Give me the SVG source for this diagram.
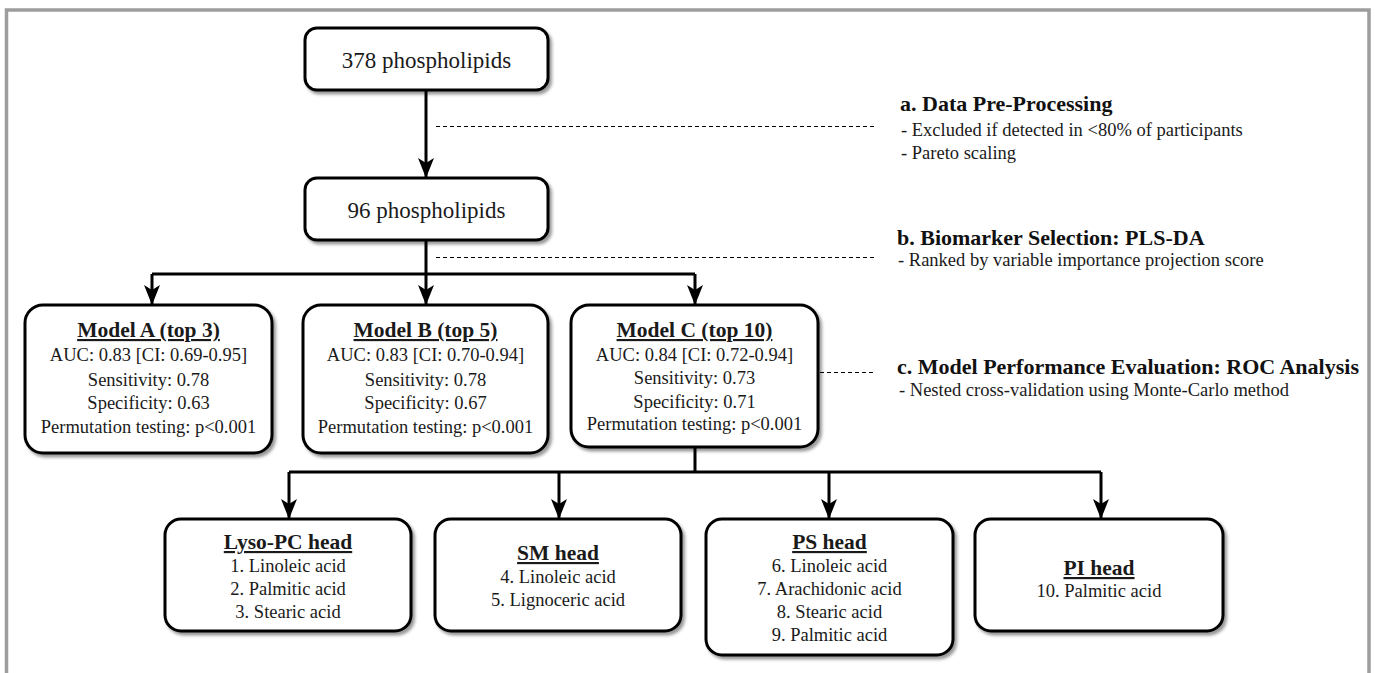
<svg xmlns="http://www.w3.org/2000/svg" width="1375" height="673" viewBox="0 0 1375 673">
<style>
.box{fill:#fff;stroke:#000;stroke-width:3;filter:url(#sh)}
.t{font-family:"Liberation Serif","Times New Roman",serif;fill:#1a1a1a;text-anchor:middle}
.big{font-size:23px}
.ttl{font-size:21.5px;font-weight:bold;text-decoration:underline}
.bd{font-size:18.5px}
.ah{font-family:"Liberation Serif","Times New Roman",serif;font-size:22px;font-weight:bold;fill:#111}
.ab{font-family:"Liberation Serif","Times New Roman",serif;font-size:18.5px;fill:#1a1a1a}
.con{fill:none;stroke:#000;stroke-width:3}
.dash{fill:none;stroke:#000;stroke-width:1;stroke-dasharray:4 3}
</style>
<defs>
<filter id="sh" x="-10%" y="-10%" width="125%" height="125%">
<feDropShadow dx="2.5" dy="3" stdDeviation="1.5" flood-color="#000" flood-opacity="0.4"/>
</filter>
<marker id="ar" viewBox="0 0 20 16" refX="19" refY="8" markerWidth="20" markerHeight="16" markerUnits="userSpaceOnUse" orient="auto">
<path d="M0,0 L20,8 L0,16 L5,8 Z" fill="#000"/>
</marker>
</defs>
<rect x="0" y="0" width="1375" height="673" fill="#fff"/>
<rect x="6.5" y="10" width="1362.5" height="720" fill="none" stroke="#9d9d9d" stroke-width="3.5"/>

<g id="connectors">
<path class="con" d="M426,90 V177" marker-end="url(#ar)"/>
<path class="con" d="M426,240 V274 M152,274 H695"/>
<path class="con" d="M152,274 V304" marker-end="url(#ar)"/>
<path class="con" d="M426,274 V304" marker-end="url(#ar)"/>
<path class="con" d="M695,274 V304" marker-end="url(#ar)"/>
<path class="con" d="M695,447 V472 M289,472 H1101"/>
<path class="con" d="M289,472 V518" marker-end="url(#ar)"/>
<path class="con" d="M559,472 V518" marker-end="url(#ar)"/>
<path class="con" d="M829,472 V518" marker-end="url(#ar)"/>
<path class="con" d="M1101,472 V518" marker-end="url(#ar)"/>
<path class="dash" d="M436,126.5 H876"/>
<path class="dash" d="M436,257.5 H875"/>
<path class="dash" d="M820,372.5 H875"/>
</g>

<g id="n378">
<rect class="box" x="305" y="28" width="243" height="62" rx="12"/>
<text class="t big" x="426.5" y="68">378 phospholipids</text>
</g>
<g id="n96">
<rect class="box" x="305" y="178" width="243" height="62" rx="12"/>
<text class="t big" x="426.5" y="218">96 phospholipids</text>
</g>

<g id="annA">
<text class="ah" x="900" y="111">a. Data Pre-Processing</text>
<text class="ab" x="901" y="136">- Excluded if detected in &lt;80% of participants</text>
<text class="ab" x="901" y="159">- Pareto scaling</text>
</g>
<g id="annB">
<text class="ah" x="897" y="245">b. Biomarker Selection: PLS-DA</text>
<text class="ab" x="898" y="266">- Ranked by variable importance projection score</text>
</g>
<g id="annC">
<text class="ah" x="897" y="374">c. Model Performance Evaluation: ROC Analysis</text>
<text class="ab" x="899" y="396">- Nested cross-validation using Monte-Carlo method</text>
</g>

<g id="modelA">
<rect class="box" x="25" y="305" width="247" height="148" rx="18"/>
<text class="t ttl" x="148.5" y="337">Model A (top 3)</text>
<text class="t bd" x="148.5" y="361">AUC: 0.83 [CI: 0.69-0.95]</text>
<text class="t bd" x="148.5" y="386">Sensitivity: 0.78</text>
<text class="t bd" x="148.5" y="409">Specificity: 0.63</text>
<text class="t bd" x="148.5" y="433">Permutation testing: p&lt;0.001</text>
</g>
<g id="modelB">
<rect class="box" x="303" y="305" width="245" height="148" rx="18"/>
<text class="t ttl" x="425.5" y="337">Model B (top 5)</text>
<text class="t bd" x="425.5" y="361">AUC: 0.83 [CI: 0.70-0.94]</text>
<text class="t bd" x="425.5" y="386">Sensitivity: 0.78</text>
<text class="t bd" x="425.5" y="409">Specificity: 0.67</text>
<text class="t bd" x="425.5" y="433">Permutation testing: p&lt;0.001</text>
</g>
<g id="modelC">
<rect class="box" x="571" y="305" width="247" height="142" rx="18"/>
<text class="t ttl" x="694.5" y="337">Model C (top 10)</text>
<text class="t bd" x="694.5" y="361">AUC: 0.84 [CI: 0.72-0.94]</text>
<text class="t bd" x="694.5" y="384">Sensitivity: 0.73</text>
<text class="t bd" x="694.5" y="408">Specificity: 0.71</text>
<text class="t bd" x="694.5" y="430">Permutation testing: p&lt;0.001</text>
</g>

<g id="lysoPC">
<rect class="box" x="165" y="519" width="246" height="112" rx="16"/>
<text class="t ttl" x="288" y="549">Lyso-PC head</text>
<text class="t bd" x="288" y="572">1. Linoleic acid</text>
<text class="t bd" x="288" y="595">2. Palmitic acid</text>
<text class="t bd" x="288" y="618">3. Stearic acid</text>
</g>
<g id="sm">
<rect class="box" x="435" y="519" width="246" height="112" rx="16"/>
<text class="t ttl" x="558" y="560">SM head</text>
<text class="t bd" x="558" y="583">4. Linoleic acid</text>
<text class="t bd" x="558" y="606">5. Lignoceric acid</text>
</g>
<g id="ps">
<rect class="box" x="706" y="519" width="247" height="136" rx="16"/>
<text class="t ttl" x="829.5" y="549">PS head</text>
<text class="t bd" x="829.5" y="572">6. Linoleic acid</text>
<text class="t bd" x="829.5" y="595">7. Arachidonic acid</text>
<text class="t bd" x="829.5" y="618">8. Stearic acid</text>
<text class="t bd" x="829.5" y="641">9. Palmitic acid</text>
</g>
<g id="pi">
<rect class="box" x="975" y="519" width="248" height="112" rx="16"/>
<text class="t ttl" x="1099" y="575">PI head</text>
<text class="t bd" x="1099" y="597">10. Palmitic acid</text>
</g>
</svg>
